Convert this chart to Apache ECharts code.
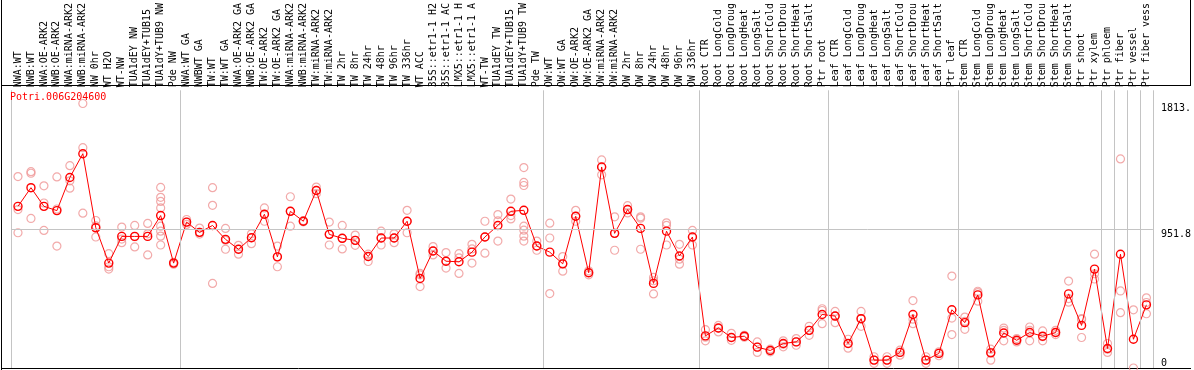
<!DOCTYPE html>
<html><head><meta charset="utf-8">
<script src="https://cdn.jsdelivr.net/npm/echarts@6/dist/echarts.min.js"></script>
<style>html,body{margin:0;padding:0;background:#fff;overflow:hidden}#c{width:1194px;height:370px}</style>
</head><body><div id="c"></div><script>
const geneTitle = "Potri.006G204600";
const categories = [
"NWA:WT","NWB:WT","NWA:OE-ARK2","NWB:OE-ARK2","NWA:miRNA-ARK2","NWB:miRNA-ARK2","NW 0hr","WT H2O","WT-NW","TUA1dEY NW",
"TUA1dEY+TUB15","TUA1dY+TUB9 NW","Pde NW","NWA:WT GA","NWBWT GA","TW:WT","TW:WT GA","NWA:OE-ARK2 GA","NWB:OE-ARK2 GA","TW:OE-ARK2",
"TW:OE-ARK2 GA","NWA:miRNA-ARK2","NWB:miRNA-ARK2","TW:miRNA-ARK2","TW:miRNA-ARK2","TW 2hr","TW 8hr","TW 24hr","TW 48hr","TW 96hr",
"TW 336hr","WT ACC","35S::etr1-1 H2","35S::etr1-1 AC","LMX5::etr1-1 H","LMX5::etr1-1 A","WT-TW","TUA1dEY TW","TUA1dEY+TUB15","TUA1dY+TUB9 TW",
"Pde TW","OW:WT","OW:WT GA","OW:OE-ARK2","OW:OE-ARK2 GA","OW:miRNA-ARK2","OW:miRNA-ARK2","OW 2hr","OW 8hr","OW 24hr",
"OW 48hr","OW 96hr","OW 336hr","Root CTR","Root LongCold","Root LongDroug","Root LongHeat","Root LongSalt","Root ShortCold","Root ShortDrou",
"Root ShortHeat","Root ShortSalt","Ptr root","Leaf CTR","Leaf LongCold","Leaf LongDroug","Leaf LongHeat","Leaf LongSalt","Leaf ShortCold","Leaf ShortDrou",
"Leaf ShortHeat","Leaf ShortSalt","Ptr leaf","Stem CTR","Stem LongCold","Stem LongDroug","Stem LongHeat","Stem LongSalt","Stem ShortCold","Stem ShortDrou",
"Stem ShortHeat","Stem ShortSalt","Ptr shoot","Ptr xylem","Ptr phloem","Ptr fiber","Ptr vessel","Ptr fiber vess"
];
const means = [
1108,1236,1108,1079,1306,1469,961,719,902,902,
902,1045,719,1000,930,977,882,814,893,1054,
762,1074,1006,1217,916,889,875,764,891,891,
1006,614,802,732,728,794,898,977,1074,1081,
836,794,714,1040,653,1378,923,1086,957,580,
938,768,898,220,274,209,218,143,120,168,
179,258,367,356,168,338,54,54,107,367,
54,100,399,311,501,104,240,190,243,218,
243,508,292,678,134,780,197,433
];
const replicates = [
[1312,1086,927],[1346,1335,1025],[1249,1131,943],[1310,1090,836],[1387,1283,1233],
[1813.04,1510,1061],[1011,974,898],[784,694,678],[966,884,859],[977,900,830],
[991,920,775],[1238,1170,1142,1097,972,938,904,843],[725,719,712],[1018,1000,984],[959,930,918],
[1236,1115,580],[957,875,814],[841,814,780],[920,893,852],[1097,1054,1006],
[836,762,694],[1174,1074,972],[1010,1006,1002],[1240,1217,1195],[1000,916,843],
[977,889,816],[911,875,841],[780,764,730],[938,891,843],[920,891,859],
[1081,1006,927],[648,639,558],[832,802,775],[791,732,685],[784,755,648],
[848,816,719],[1006,898,787],[1052,1008,870],[1158,1045,1022],[1374,1272,1251,972,945,904,870],
[870,836,807],[993,891,510],[764,714,664],[1081,1040,1006],[666,653,639],
[1426,1378,1324],[1036,923,807],[1113,1086,1063],[1036,1027,814],[621,598,508],
[995,977,843],[848,746,712],[943,898,843],[263,211,186],[292,272,247],
[238,209,190],[224,218,211],[179,143,107],[129,120,111],[186,163,145],
[202,179,156],[286,258,224],[406,394,304],[388,356,311],[197,168,136],
[388,338,286],[77,54,32],[77,54,32],[122,107,88],[462,335,304],
[77,54,32],[111,100,84],[630,342,229],[349,320,265],[526,517,458],
[129,107,54],[274,258,186],[202,190,179],[281,258,186],[254,215,186],
[258,243,229],[596,476,451],[338,333,209],[780,646,610],[168,129,107],
[1433,528,379],[399,0],[481,449,372]
];
const groupBoundaries = [0, 13, 41, 53, 63, 73, 84, 85, 86, 87, 88];

const FONT = "'DejaVu Sans Mono', monospace";
const dataMax = Math.max(...replicates.flat(), ...means);
const axisMax = dataMax * 1.05;
const midTick = axisMax / 2;
const fmt = v => String(v).slice(0, 5);

const repData = [];
replicates.forEach((arr, i) => arr.forEach(v => repData.push([i, v])));

const chart = echarts.init(document.getElementById('c'), null, {renderer: 'canvas'});
const yBase = {
  type: 'value', min: 0, max: axisMax, position: 'right',
  axisLine: {show: false}, axisTick: {show: false}, splitLine: {show: false}
};
chart.setOption({
  animation: false,
  backgroundColor: '#fff',
  title: {
    text: geneTitle, left: 5, top: 87,
    textStyle: {color: '#ff0000', fontSize: 10, fontFamily: FONT, fontWeight: 'normal'}
  },
  grid: {left: 11.5, width: 1144, top: 87, height: 281},
  xAxis: [
    {
      type: 'category', data: categories, position: 'top', boundaryGap: true,
      axisLine: {show: false}, axisTick: {show: false}, splitLine: {show: false},
      axisLabel: {interval: 0, rotate: 90, margin: 3, padding: [5, 0, 0, 0], color: '#000', fontSize: 10, fontFamily: FONT}
    },
    {type: 'value', min: 0, max: 88, show: false}
  ],
  yAxis: [
    Object.assign({}, yBase, {
      axisLabel: {customValues: [dataMax, midTick], formatter: fmt, verticalAlign: 'top', margin: 8,
        color: '#000', fontSize: 10, fontFamily: FONT}
    }),
    Object.assign({}, yBase, {
      axisLabel: {customValues: [0], formatter: fmt, verticalAlign: 'bottom', margin: 8,
        color: '#000', fontSize: 10, fontFamily: FONT}
    })
  ],
  series: [
    {
      type: 'line', xAxisIndex: 1, yAxisIndex: 0, data: [[0, 0]], showSymbol: false, symbol: 'none',
      lineStyle: {opacity: 0}, silent: true, z: 1,
      markLine: {
        silent: true, symbol: 'none', label: {show: false},
        lineStyle: {color: '#c4c4c4', width: 1, type: 'solid'},
        data: groupBoundaries.map(b => ({xAxis: b})).concat([{yAxis: midTick}])
      }
    },
    {
      type: 'scatter', xAxisIndex: 0, yAxisIndex: 0, data: repData,
      symbol: 'circle', symbolSize: 8,
      itemStyle: {color: 'rgba(0,0,0,0)', borderColor: '#ef9595', borderWidth: 1.2}, z: 2
    },
    {
      type: 'line', xAxisIndex: 0, yAxisIndex: 0, data: means,
      symbol: 'circle', symbolSize: 8, showAllSymbol: true,
      lineStyle: {color: '#ff0000', width: 1},
      itemStyle: {color: 'rgba(0,0,0,0)', borderColor: '#ff0000', borderWidth: 1.4}, z: 3
    }
  ],
  graphic: [
    {type: 'line', shape: {x1: 1.5, y1: 0, x2: 1.5, y2: 370}, style: {stroke: '#000', lineWidth: 1}, silent: true},
    {type: 'line', shape: {x1: 1, y1: 85.5, x2: 1191, y2: 85.5}, style: {stroke: '#000', lineWidth: 1}, silent: true},
    {type: 'line', shape: {x1: 1, y1: 368.5, x2: 1191, y2: 368.5}, style: {stroke: '#000', lineWidth: 1}, silent: true},
    {type: 'line', shape: {x1: 1190.5, y1: 0, x2: 1190.5, y2: 86}, style: {stroke: '#000', lineWidth: 1}, silent: true}
  ]
});
</script></body></html>
